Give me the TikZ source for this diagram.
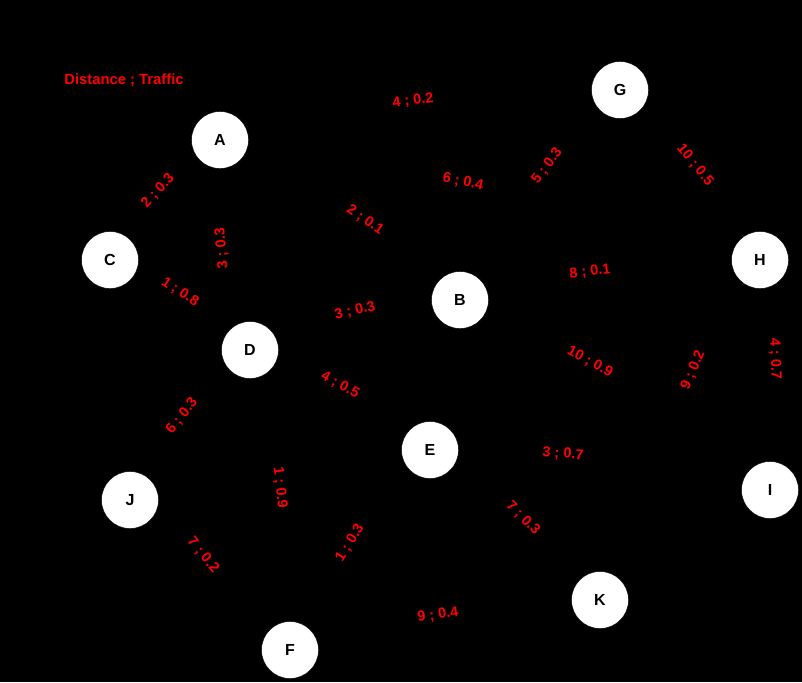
\documentclass[tikz,border=0pt]{standalone}
\usepackage{fontspec}
\setmainfont{Liberation Sans}
\usepackage{tikz}
\usetikzlibrary{shapes}

\begin{document}
\begin{tikzpicture}[x=1pt,y=-1pt,
	vertex/.style={circle,fill=white,draw=black,minimum size=57pt,inner sep=0pt,font=\fontsize{16}{18}\selectfont\bfseries},
	lbl/.style={text=red,inner sep=0pt,font=\fontsize{14.5}{16}\selectfont\bfseries},
	link/.style={draw=black,thick}]
	\fill[black] (0,0) rectangle (802,682);
	\useasboundingbox (0,0) rectangle (802,682);
	%
	\node[lbl,font=\fontsize{14.8}{16}\selectfont\bfseries] (key) at (124,80) {Distance ; Traffic};
	%
	\node[vertex] (A) at (220,140) {A};
	\node[vertex] (G) at (620,90) {G};
	\node[vertex] (C) at (110,260) {C};
	\node[vertex] (H) at (760,260) {H};
	\node[vertex] (B) at (460,300) {B};
	\node[vertex] (D) at (250,350) {D};
	\node[vertex] (E) at (430,450) {E};
	\node[vertex] (I) at (770,490) {I};
	\node[vertex] (J) at (130,500) {J};
	\node[vertex] (K) at (600,600) {K};
	\node[vertex] (F) at (290,650) {F};
	%
	\draw [link] (A) edge (G);
	\draw [link] (A) edge (C);
	\draw [link] (A) edge (D);
	\draw [link] (A) edge (B);
	\draw [link] (A) edge (H);
	\draw [link] (C) edge (D);
	\draw [link] (B) edge (G);
	\draw [link] (G) edge (H);
	\draw [link] (B) edge (H);
	\draw [link] (D) edge (B);
	\draw [link] (B) edge (I);
	\draw [link] (H) edge (K);
	\draw [link] (H) edge (I);
	\draw [link] (D) edge (E);
	\draw [link] (J) edge (D);
	\draw [link] (E) edge (I);
	\draw [link] (D) edge (F);
	\draw [link] (E) edge (K);
	\draw [link] (J) edge (F);
	\draw [link] (F) edge (E);
	\draw [link] (F) edge (K);
	%
	\node[lbl,rotate=7] (lAG) at (413,101) {4 ; 0.2};
	\node[lbl,rotate=47] (lAC) at (158,191) {2 ; 0.3};
	\node[lbl,rotate=95] (lAD) at (222,248) {3 ; 0.3};
	\node[lbl,rotate=-33] (lCD) at (180,292) {1 ; 0.8};
	\node[lbl,rotate=-34] (lAB) at (365,220) {2 ; 0.1};
	\node[lbl,rotate=-12] (lAH) at (463,182) {6 ; 0.4};
	\node[lbl,rotate=53] (lBG) at (547,166) {5 ; 0.3};
	\node[lbl,rotate=-51] (lGH) at (695,165) {10 ; 0.5};
	\node[lbl,rotate=7] (lBH) at (590,272) {8 ; 0.1};
	\node[lbl,rotate=13] (lDB) at (355,311) {3 ; 0.3};
	\node[lbl,rotate=-28] (lBI) at (590,362) {10 ; 0.9};
	\node[lbl,rotate=67] (lHK) at (693,370) {9 ; 0.2};
	\node[lbl,rotate=-88] (lHI) at (775,359) {4 ; 0.7};
	\node[lbl,rotate=-29] (lDE) at (340,385) {4 ; 0.5};
	\node[lbl,rotate=51] (lJD) at (182,416) {6 ; 0.3};
	\node[lbl,rotate=-5] (lEI) at (563,454) {3 ; 0.7};
	\node[lbl,rotate=-84] (lDF) at (280,488) {1 ; 0.9};
	\node[lbl,rotate=-45] (lEK) at (523,518) {7 ; 0.3};
	\node[lbl,rotate=-50] (lJF) at (203,555) {7 ; 0.2};
	\node[lbl,rotate=58] (lFE) at (350,543) {1 ; 0.3};
	\node[lbl,rotate=8] (lFK) at (438,615) {9 ; 0.4};
\end{tikzpicture}
\end{document}
